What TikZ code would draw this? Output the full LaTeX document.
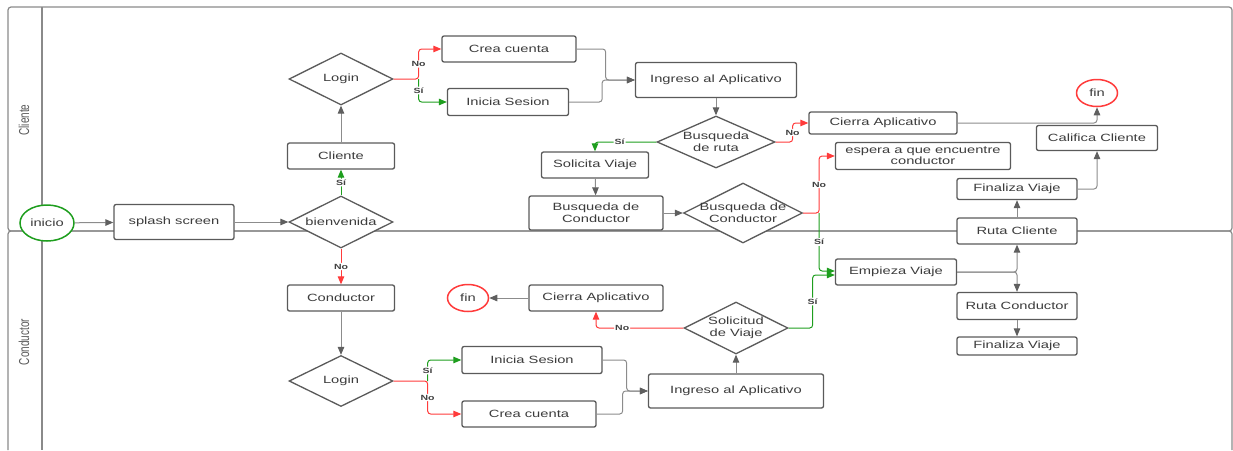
\documentclass[tikz,border=0pt]{standalone}
\usepackage{graphicx}
\usepackage{fontspec}
\setmainfont{Liberation Sans}[FakeStretch=1.4]
\newfontfamily\lanefont{Liberation Sans}
\usetikzlibrary{shapes.geometric,arrows.meta}
\definecolor{boxgray}{HTML}{5A5A5A}
\definecolor{linegray}{HTML}{8C8C8C}
\definecolor{headgray}{HTML}{5F5F5F}
\definecolor{txtgray}{HTML}{3C3C3C}
\definecolor{lanegray}{HTML}{8A8A8A}
\definecolor{nored}{HTML}{FF3B3B}
\definecolor{sigreen}{HTML}{1E9E1E}
\tikzset{
  every node/.style={font=\fontsize{10.5}{12}\selectfont, text=txtgray},
  paso/.style={draw=boxgray, fill=white, line width=1.3pt, rounded corners=2pt, inner sep=0pt, align=center},
  rombo/.style={diamond, draw=boxgray, fill=white, line width=1.3pt, inner sep=0pt},
  rtext/.style={align=center, inner sep=0pt},
  terminal/.style={ellipse, fill=white, line width=1.5pt, inner sep=0pt},
  flujo/.style={draw=linegray, line width=1pt, rounded corners=3pt, -{Triangle[length=8pt,width=6.5pt,color=headgray]}},
  flujosi/.style={draw=sigreen, line width=1pt, rounded corners=3pt, -{Triangle[length=8pt,width=6.5pt]}},
  flujono/.style={draw=nored, line width=1pt, rounded corners=3pt, -{Triangle[length=8pt,width=6.5pt]}},
  lbl/.style={fill=white, inner sep=1pt, font=\bfseries\fontsize{7.5}{8}\selectfont, text=black!75},
  carril/.style={draw=lanegray, line width=1.2pt, rounded corners=3pt}
}
\begin{document}
\begin{tikzpicture}[x=1pt, y=-1pt]
  \useasboundingbox (0,0) rectangle (1233,450);

  \draw[carril] (8,7) rectangle (1232,231);
  \draw[carril] (42,7) -- (42,231);
  \draw[carril] (8,450) -- (8,231) -- (1232,231) -- (1232,450);
  \draw[carril] (42,231) -- (42,450);
  \node (lanecli) at (24,120) {\scalebox{1.44}[1]{\rotatebox{90}{\lanefont\fontsize{10}{12}\selectfont\color{black!65}Cliente}}};
  \node (lanecond) at (24,342) {\scalebox{1.44}[1]{\rotatebox{90}{\lanefont\fontsize{10}{12}\selectfont\color{black!65}Conductor}}};

  \node[terminal, draw=sigreen, minimum width=54, minimum height=36] (inicio) at (47,223) {inicio};
  \node[paso, minimum width=120, minimum height=35] (splash) at (174,222) {splash screen};
  \node[rombo, minimum width=104, minimum height=52, label={[rtext]center:bienvenida}] (bienv) at (341,222) {};
  \node[paso, minimum width=107, minimum height=26] (cliente) at (341,156) {Cliente};
  \node[rombo, minimum width=104, minimum height=52, label={[rtext]center:Login}] (logincli) at (341,79) {};
  \node[paso, minimum width=134, minimum height=26] (creacli) at (509,49) {Crea cuenta};
  \node[paso, minimum width=121, minimum height=27] (iniciacli) at (508,102) {Inicia Sesion};
  \node[paso, minimum width=161, minimum height=35] (ingresocli) at (716,80) {Ingreso al Aplicativo};
  \node[rombo, minimum width=118, minimum height=52, label={[rtext]center:Busqueda\\de ruta}] (busruta) at (716,142) {};
  \node[paso, minimum width=148, minimum height=22] (cierracli) at (883,123) {Cierra Aplicativo};
  \node[terminal, draw=nored, minimum width=41, minimum height=27] (fincli) at (1097,93) {fin};
  \node[paso, minimum width=121, minimum height=25] (califica) at (1097,138) {Califica Cliente};
  \node[paso, minimum width=175, minimum height=27, font=\fontsize{10.5}{11}\selectfont] (espera) at (923,156) {espera a que encuentre\\conductor};
  \node[paso, minimum width=120, minimum height=21] (finalizacli) at (1017,189) {Finaliza Viaje};
  \node[paso, minimum width=120, minimum height=26] (rutacli) at (1017,231) {Ruta Cliente};
  \node[paso, minimum width=107, minimum height=26] (solicita) at (595,165) {Solicita Viaje};
  \node[paso, minimum width=134, minimum height=34] (buscond) at (596,213) {Busqueda de\\Conductor};
  \node[rombo, minimum width=119, minimum height=60, label={[rtext]center:Busqueda de\\Conductor}] (buscondr) at (743,213) {};

  \node[paso, minimum width=121, minimum height=26] (empieza) at (896,272) {Empieza Viaje};
  \node[paso, minimum width=120, minimum height=27] (rutacond) at (1017,306) {Ruta Conductor};
  \node[paso, minimum width=120, minimum height=18] (finalizacond) at (1017,346) {Finaliza Viaje};
  \node[paso, minimum width=107, minimum height=26] (conductor) at (341,298) {Conductor};
  \node[rombo, minimum width=104, minimum height=51, label={[rtext]center:Login}] (logincond) at (341,381) {};
  \node[paso, minimum width=140, minimum height=27] (iniciacond) at (532,360) {Inicia Sesion};
  \node[paso, minimum width=134, minimum height=26] (creacond) at (529,414) {Crea cuenta};
  \node[paso, minimum width=175, minimum height=34] (ingresocond) at (736,391) {Ingreso al Aplicativo};
  \node[rombo, minimum width=104, minimum height=52, label={[rtext]center:Solicitud\\de Viaje}] (solicitud) at (736,328) {};
  \node[paso, minimum width=134, minimum height=26] (cierracond) at (596,298) {Cierra Aplicativo};
  \node[terminal, draw=nored, minimum width=41, minimum height=27] (fincond) at (468,298) {fin};

  \draw[flujo] (inicio) -- (splash);
  \draw[flujo] (splash) -- (bienv);
  \draw[flujosi] (bienv.north) -- node[lbl] {Sí} (cliente.south);
  \draw[flujono] (bienv.south) -- node[lbl] {No} (conductor.north);
  \draw[flujo] (cliente) -- (logincli);
  \draw[flujono] (logincli.east) -- ++(25,0) |- node[lbl, pos=.25] {No} (creacli.west);
  \draw[flujosi] (logincli.east) ++(25,0) |- node[lbl, pos=.25] {Sí} (iniciacli.west);
  \draw[flujo] (creacli.east) -- ++(29,0) |- (ingresocli.west);
  \draw[flujo] (iniciacli.east) -- ++(33,0) |- (ingresocli.west);
  \draw[flujo] (ingresocli) -- (busruta);
  \draw[flujosi] (busruta.west) -| node[lbl, pos=.3] {Sí} (solicita.north);
  \draw[flujono] (busruta.east) -- ++(17,0) |- node[lbl, pos=.25] {No} (cierracli.west);
  \draw[flujo] (cierracli.east) -| (fincli.south);
  \draw[flujo] (finalizacli.east) -| (califica.south);
  \draw[flujo] (rutacli) -- (finalizacli);
  \draw[flujo] (solicita) -- (buscond);
  \draw[flujo] (buscond) -- (buscondr);
  \draw[flujono] (buscondr.east) -- ++(16,0) |- node[lbl, pos=.25] {No} (espera.west);
  \draw[flujosi] (buscondr.east) ++(16,0) |- node[lbl, pos=.25] {Sí} ([yshift=1]empieza.west);
  \draw[flujosi] (solicitud.east) -- ++(24,0) |- node[lbl, pos=.25] {Sí} ([yshift=-3]empieza.west);
  \draw[flujono] (solicitud.west) -| node[lbl, pos=.35] {No} (cierracond.south);
  \draw[flujo] (cierracond) -- (fincond);
  \draw[flujo] (ingresocond) -- (solicitud);
  \draw[flujo] (conductor) -- (logincond);
  \draw[flujono] (logincond.east) -- ++(34,0) |- node[lbl, pos=.25] {No} (creacond.west);
  \draw[flujosi] (logincond.east) ++(34,0) |- node[lbl, pos=.25] {Sí} (iniciacond.west);
  \draw[flujo] (iniciacond.east) -- ++(24,0) |- (ingresocond.west);
  \draw[flujo] (creacond.east) -- ++(26,0) |- (ingresocond.west);
  \draw[flujo] (empieza.east) -| (rutacli.south);
  \draw[flujo] (empieza.east) -| (rutacond.north);
  \draw[flujo] (rutacond) -- (finalizacond);
\end{tikzpicture}
\end{document}
